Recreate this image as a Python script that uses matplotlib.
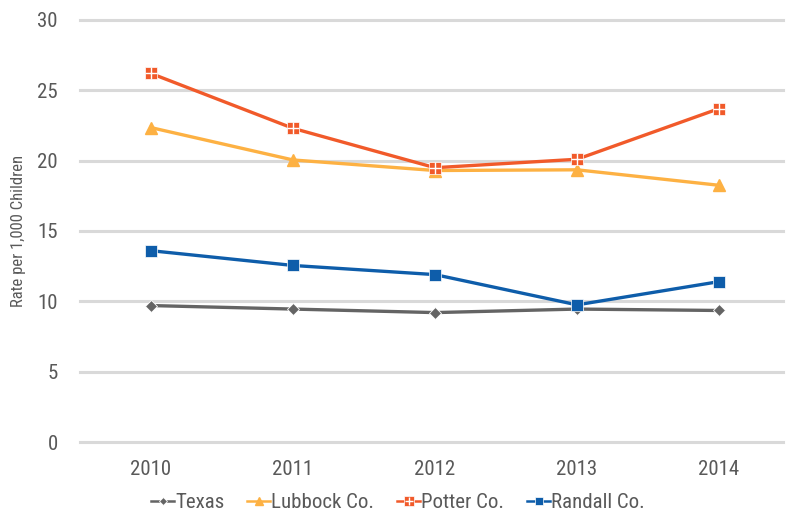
import matplotlib
matplotlib.use("Agg")
import matplotlib.pyplot as plt
from matplotlib.legend_handler import HandlerTuple
from matplotlib import font_manager

names = {f.name for f in font_manager.fontManager.ttflist}
fams = [f for f in ['Roboto Condensed', 'Archivo Narrow', 'Asap Condensed'] if f in names]
plt.rcParams['font.family'] = fams[:1] + ['DejaVu Sans']

years = ["2010", "2011", "2012", "2013", "2014"]
texas = [9.7, 9.45, 9.2, 9.45, 9.35]
lubbock = [22.35, 20.05, 19.3, 19.35, 18.25]
potter = [26.2, 22.3, 19.5, 20.1, 23.7]
randall = [13.6, 12.55, 11.9, 9.75, 11.4]

c_tx = "#646464"
c_lb = "#FDB143"
c_pt = "#F15A2A"
c_rd = "#0E5DAA"
tick_col = "#595959"

fig = plt.figure(figsize=(7.96, 5.18), dpi=100)
ax = fig.add_axes([80/796, 1-442/518, 710/796, (442-20)/518])

x = list(range(len(years)))
lw = 2.4
l_tx, = ax.plot(x, texas, color=c_tx, lw=lw, marker='D', ms=6, mec='white', mew=0.6, zorder=3)
l_lb, = ax.plot(x, lubbock, color=c_lb, lw=lw, marker='^', ms=8, mec=c_lb, zorder=3)
l_pt, = ax.plot(x, potter, color=c_pt, lw=lw, marker='s', ms=9, mec='white', mew=0.5, zorder=4)
l_pt2, = ax.plot(x, potter, color=c_pt, lw=0, marker='+', ms=8, mec='white', mew=1.0, zorder=5)
l_rd, = ax.plot(x, randall, color=c_rd, lw=lw, marker='s', ms=8, mec='white', mew=0.5, zorder=4)

ax.set_xlim(-0.5, 4.5)
ax.set_ylim(0, 30)
ax.set_yticks(range(0, 31, 5))
ax.set_xticks(x)
ax.set_xticklabels(years)
ax.set_axisbelow(True)
for v in range(0, 31, 5):
    ax.axhline(v, xmin=0, xmax=0.99, color='#D9D9D9', lw=2.2, zorder=0, clip_on=False)
for s in ax.spines.values():
    s.set_visible(False)
ax.tick_params(axis='both', length=0, colors=tick_col, labelsize=15)
ax.tick_params(axis='y', pad=16)
ax.tick_params(axis='x', pad=13)
ax.set_ylabel("Rate per 1,000 Children", color=tick_col, fontsize=12, labelpad=8)

handles = [l_tx, l_lb, (l_pt, l_pt2), l_rd]
labels = ["Texas", "Lubbock Co.", "Potter Co.", "Randall Co."]
fig.legend(handles, labels, loc='lower center', bbox_to_anchor=(0.5, -0.025), ncol=4,
           frameon=False, fontsize=15, labelcolor=tick_col, handlelength=1.1,
           handletextpad=0.05, columnspacing=1.1, markerscale=0.75,
           handler_map={tuple: HandlerTuple(ndivide=1, pad=0)})
for ln in fig.legends[0].get_lines():
    ln.set_linewidth(1.8)

fig.savefig("out.png", dpi=100)
